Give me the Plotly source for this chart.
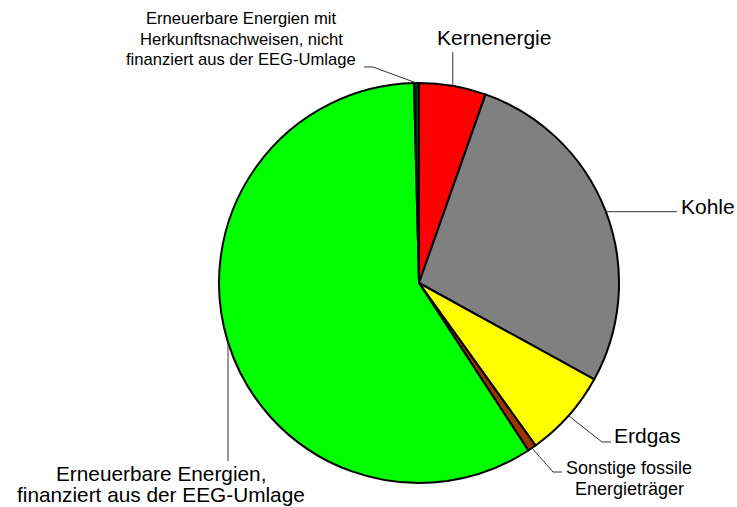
import math
import plotly.graph_objects as go

# ---- data ----
categories = [
    "Kernenergie",
    "Kohle",
    "Erdgas",
    "Sonstige fossile Energieträger",
    "Erneuerbare Energien, finanziert aus der EEG-Umlage",
    "Erneuerbare Energien mit Herkunftsnachweisen, nicht finanziert aus der EEG-Umlage",
]
values = [5.4, 27.6, 7.1, 0.7, 58.8, 0.4]
colors = ["#FF0000", "#808080", "#FFFF00", "#993300", "#00FF00", "#003300"]
label_lines = [
    ["Kernenergie"],
    ["Kohle"],
    ["Erdgas"],
    ["Sonstige fossile", "Energieträger"],
    ["Erneuerbare Energien,", "finanziert aus der EEG-Umlage"],
    ["Erneuerbare Energien mit", "Herkunftsnachweisen, nicht", "finanziert aus der EEG-Umlage"],
]

# ---- layout constants (pixels in the browser window) ----
W, H = 737, 507
CX, CY, R = 419, 283, 200

def px(x):
    return x / W

def py(y):
    return 1 - y / H

fig = go.Figure(go.Pie(
    labels=categories,
    values=values,
    marker=dict(colors=colors, line=dict(color="black", width=2)),
    sort=False,
    direction="clockwise",
    rotation=0,
    textinfo="none",
    hoverinfo="none",
    showlegend=False,
    domain=dict(x=[px(CX - R), px(CX + R)], y=[py(CY + R), py(CY - R)]),
))

# edge anchor points at slice mid-angles, computed from data
total = sum(values)
anchors = []
cum = 0
for v in values:
    mid = (cum + v / 2) / total * 2 * math.pi
    anchors.append((CX + R * math.sin(mid), CY - R * math.cos(mid)))
    cum += v

# leader routes: extra points (pixels) after the anchor
routes = [
    [(anchors[0][0], 52)],
    [(677, anchors[1][1])],
    [(602, 442), (611, 442)],
    [(553, 472), (562, 472)],
    [(anchors[4][0], 461)],
    [(373, 67), (364, 67)],
]
# label placement: (center x, first-line center y, line spacing, font size)
label_pos = [
    (494, 38, 0, 21),
    (708, 206, 0, 21),
    (647, 435, 0, 21),
    (629, 468, 20.5, 18),
    (161, 473, 21.5, 20.8),
    (241, 19, 20.5, 16.6),
]

shapes = []
for a, route in zip(anchors, routes):
    pts = [a] + route
    for (x0, y0), (x1, y1) in zip(pts[:-1], pts[1:]):
        shapes.append(dict(type="line", xref="paper", yref="paper",
                           x0=px(x0), y0=py(y0), x1=px(x1), y1=py(y1),
                           line=dict(color="#333333", width=1)))

annotations = []
for lines, (x, y, dy, fs) in zip(label_lines, label_pos):
    for i, t in enumerate(lines):
        annotations.append(dict(text=t, x=px(x), y=py(y + i * dy), xref="paper", yref="paper",
                                xanchor="center", yanchor="middle", showarrow=False,
                                borderpad=0,
                                font=dict(family="Liberation Sans, Arial", size=fs, color="black")))

fig.update_layout(
    width=W, height=H,
    margin=dict(l=0, r=0, t=0, b=0),
    paper_bgcolor="white", plot_bgcolor="white",
    shapes=shapes, annotations=annotations,
)

fig.write_html(
    "out.html",
    config={"displayModeBar": False, "staticPlot": True},
    post_script="document.body.style.margin='0';document.body.style.overflow='hidden';",
)
